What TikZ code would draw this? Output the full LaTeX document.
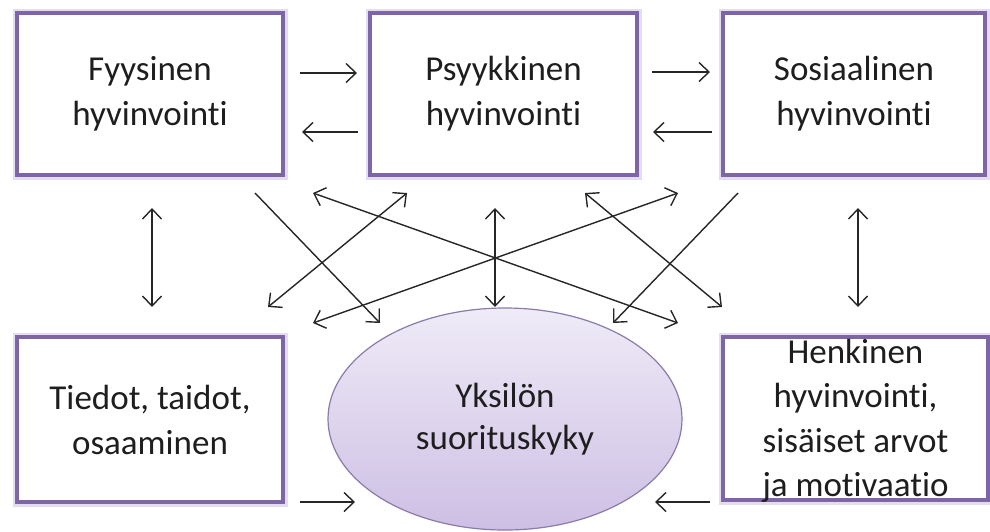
\documentclass[tikz,border=0pt]{standalone}
\usepackage{fontspec}
\setmainfont{Carlito}[Ligatures={NoCommon}]
\usetikzlibrary{arrows.meta,shapes.geometric}
\definecolor{boxpurple}{HTML}{7E66A6}
\definecolor{glow}{HTML}{E4DCF0}
\definecolor{elltop}{HTML}{EFEBF7}
\definecolor{ellbot}{HTML}{CDBFE4}
\definecolor{elledge}{HTML}{8A7BA8}
\definecolor{txt}{HTML}{1E1E1E}
\tikzset{
  wbox/.style={rectangle, draw=boxpurple, line width=3.2pt, fill=white,
    preaction={draw=glow, line width=9pt},
    minimum width=#1, inner sep=0pt, align=center, text=txt,
    font=\fontsize{35}{45}\selectfont},
  ellnode/.style={ellipse, draw=elledge, line width=1.2pt, top color=elltop, bottom color=ellbot,
    inner sep=0pt, align=center, text=txt, font=\fontsize{35}{42}\selectfont},
  conn/.style={line width=1.4pt, draw=black!85},
  one/.style={conn, -{Straight Barb[length=10pt,width=19pt,line width=1.4pt]}},
  two/.style={conn, {Straight Barb[length=10pt,width=19pt,line width=1.4pt]}-{Straight Barb[length=10pt,width=19pt,line width=1.4pt]}}
}
\begin{document}
\begin{tikzpicture}[x=1pt,y=-1pt]
\useasboundingbox (0,0) rectangle (990,531);
% boxes
\node[wbox=266pt, minimum height=162pt] (fy) at (150,94) {Fyysinen\\hyvinvointi};
\node[wbox=267pt, minimum height=162pt] (ps) at (503.5,94) {Psyykkinen\\hyvinvointi};
\node[wbox=262pt, minimum height=162pt] (so) at (854,94) {Sosiaalinen\\hyvinvointi};
\node[wbox=266pt, minimum height=165pt] (ti) at (150,419.5) {Tiedot, taidot,\\osaaminen};
\node[wbox=265pt, minimum height=163pt] (he) at (855.5,418.5) {};
\node[align=center, text=txt, font=\fontsize{35}{44.5}\selectfont] (het) at (855.5,421) {Henkinen\\hyvinvointi,\\sisäiset arvot\\ja motivaatio};
\node[ellnode, minimum width=354pt, minimum height=222pt] (el) at (505,419) {Yksilön\\suorituskyky};
% arrow end points
\coordinate (a1s) at (300,73);  \coordinate (a1e) at (357,73);
\coordinate (a2s) at (358,132); \coordinate (a2e) at (302,132);
\coordinate (a3s) at (652,72);  \coordinate (a3e) at (710,72);
\coordinate (a4s) at (712,132); \coordinate (a4e) at (653,132);
\coordinate (v1s) at (152,208); \coordinate (v1e) at (152,307);
\coordinate (v2s) at (858,208); \coordinate (v2e) at (858,307);
\coordinate (vcs) at (495,208); \coordinate (vce) at (495,307);
\coordinate (d1s) at (255,193); \coordinate (d1e) at (380,323);
\coordinate (d2s) at (313,193); \coordinate (d2e) at (678,323);
\coordinate (d3s) at (407,193); \coordinate (d3e) at (268,307);
\coordinate (d4s) at (678,193); \coordinate (d4e) at (313,323);
\coordinate (d5s) at (585,193); \coordinate (d5e) at (722,307);
\coordinate (d6s) at (738,193); \coordinate (d6e) at (613,323);
\coordinate (b1s) at (300,502); \coordinate (b1e) at (355,502);
\coordinate (b2s) at (710,502); \coordinate (b2e) at (655,502);
% arrows
\draw[one] (a1s) -- (a1e);
\draw[one] (a2s) -- (a2e);
\draw[one] (a3s) -- (a3e);
\draw[one] (a4s) -- (a4e);
\draw[two] (v1s) -- (v1e);
\draw[two] (v2s) -- (v2e);
\draw[two] (vcs) -- (vce);
\draw[one] (d1s) -- (d1e);
\draw[two] (d2s) -- (d2e);
\draw[two] (d3s) -- (d3e);
\draw[two] (d4s) -- (d4e);
\draw[two] (d5s) -- (d5e);
\draw[one] (d6s) -- (d6e);
\draw[one] (b1s) -- (b1e);
\draw[one] (b2s) -- (b2e);
\end{tikzpicture}
\end{document}
